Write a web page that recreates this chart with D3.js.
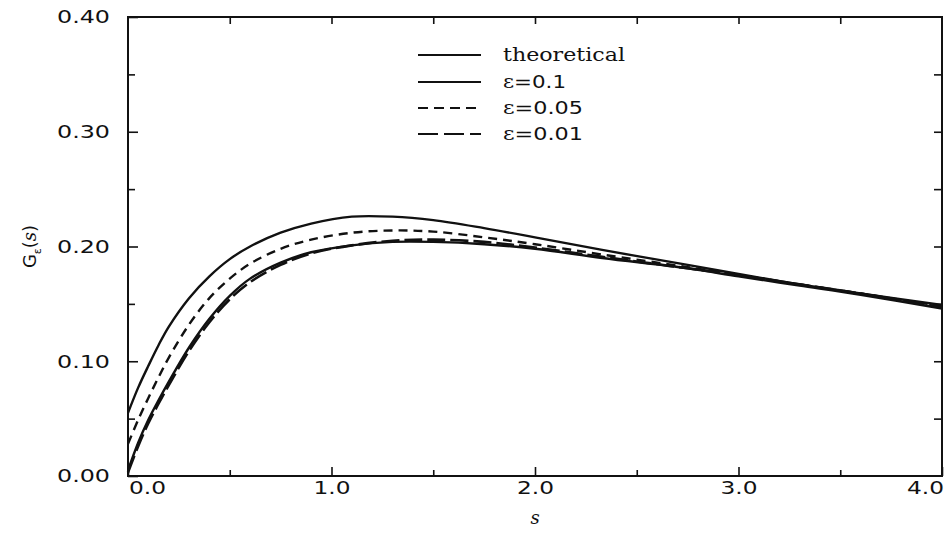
<!DOCTYPE html>
<html>
<head>
<meta charset="utf-8">
<script src="https://cdn.jsdelivr.net/npm/d3@7"></script>
<style>
  body { margin: 0; background: #fff; }
  svg { display: block; }
</style>
</head>
<body>
<svg id="chart" width="947" height="534"></svg>
<script>
const sVals = [0, 0.05, 0.1, 0.15, 0.2, 0.3, 0.4, 0.5, 0.6, 0.75, 0.9, 1.1, 1.3, 1.5, 1.75, 2.0, 2.33, 2.75, 3.0, 3.3, 3.6, 4.0];

const theoretical = [0.005, 0.029, 0.049, 0.066, 0.082, 0.112, 0.137, 0.157, 0.172, 0.186, 0.195, 0.201, 0.204, 0.204, 0.202, 0.198, 0.190, 0.181, 0.174, 0.166, 0.158, 0.146];
const eps01 = [0.055, 0.077, 0.096, 0.114, 0.130, 0.155, 0.174, 0.189, 0.200, 0.212, 0.220, 0.226, 0.226, 0.223, 0.216, 0.208, 0.197, 0.184, 0.176, 0.167, 0.159, 0.149];
const eps005 = [0.028, 0.049, 0.068, 0.086, 0.103, 0.132, 0.155, 0.172, 0.185, 0.198, 0.206, 0.212, 0.214, 0.213, 0.208, 0.202, 0.193, 0.182, 0.175, 0.167, 0.159, 0.148];
const eps001 = [0.003, 0.026, 0.046, 0.063, 0.079, 0.109, 0.134, 0.154, 0.169, 0.184, 0.194, 0.201, 0.205, 0.206, 0.204, 0.199, 0.191, 0.181, 0.175, 0.167, 0.159, 0.147];

const xTicks = [0, 1, 2, 3, 4];
const xTickLabels = ['0.0', '1.0', '2.0', '3.0', '4.0'];
const yTicks = [0, 0.1, 0.2, 0.3, 0.4];
const yTickLabels = ['0.00', '0.10', '0.20', '0.30', '0.40'];

const legendNames = ['theoretical', '=0.1', '=0.05', '=0.01'];

const svg = d3.select('#chart');
const plotLeft = 128, plotRight = 942, plotTop = 17, plotBottom = 476;

const x = d3.scaleLinear().domain([0, 4]).range([plotLeft, plotRight]);
const y = d3.scaleLinear().domain([0, 0.4]).range([plotBottom, plotTop]);

const tickFont = '"DejaVu Sans", sans-serif';
const serifFont = '"DejaVu Serif", serif';

// frame
svg.append('rect')
  .attr('x', plotLeft).attr('y', plotTop)
  .attr('width', plotRight - plotLeft).attr('height', plotBottom - plotTop)
  .attr('fill', 'none').attr('stroke', '#111').attr('stroke-width', 2);

// left axis, major + minor ticks pointing in
const yAxis = svg.append('g')
  .attr('transform', `translate(${plotLeft},0)`)
  .call(d3.axisLeft(y).tickValues(yTicks)
    .tickFormat((d, i) => yTickLabels[i])
    .tickSizeInner(-10).tickSizeOuter(0).tickPadding(18));
svg.append('g')
  .attr('transform', `translate(${plotLeft},0)`)
  .call(d3.axisLeft(y).tickValues([0.05, 0.15, 0.25, 0.35])
    .tickFormat('').tickSizeInner(-7).tickSizeOuter(0));

// right axis ticks (mirrored)
svg.append('g')
  .attr('transform', `translate(${plotRight},0)`)
  .call(d3.axisRight(y).tickValues(d3.range(0.05, 0.4, 0.05))
    .tickFormat('').tickSizeInner(-8).tickSizeOuter(0));

// bottom axis
const xAxis = svg.append('g')
  .attr('transform', `translate(0,${plotBottom})`)
  .call(d3.axisBottom(x).tickValues(xTicks)
    .tickFormat((d, i) => xTickLabels[i])
    .tickSizeInner(-9).tickSizeOuter(0).tickPadding(5));
svg.append('g')
  .attr('transform', `translate(0,${plotBottom})`)
  .call(d3.axisBottom(x).tickValues([0.5, 1.5, 2.5, 3.5])
    .tickFormat('').tickSizeInner(-6).tickSizeOuter(0));

// top axis ticks
svg.append('g')
  .attr('transform', `translate(0,${plotTop})`)
  .call(d3.axisTop(x).tickValues(d3.range(0.5, 4, 0.5))
    .tickFormat('').tickSizeInner(-7).tickSizeOuter(0));

svg.selectAll('.domain').remove();
svg.selectAll('.tick line').attr('stroke', '#111').attr('stroke-width', 1.6);

yAxis.selectAll('text')
  .attr('font-family', tickFont).attr('font-size', 18)
  .attr('fill', '#111')
  .attr('textLength', 53).attr('lengthAdjust', 'spacingAndGlyphs');

xAxis.selectAll('text')
  .attr('font-family', tickFont).attr('font-size', 18)
  .attr('fill', '#111')
  .attr('textLength', 37).attr('lengthAdjust', 'spacingAndGlyphs')
  .attr('dx', (d) => d === 0 ? 19 : d === 4 ? -17 : 0);

// axis titles
svg.append('text')
  .attr('x', x(2)).attr('y', 524)
  .attr('text-anchor', 'middle')
  .attr('font-family', serifFont).attr('font-style', 'italic')
  .attr('font-size', 18).attr('fill', '#111')
  .text('s');

const yTitle = svg.append('text')
  .attr('transform', `translate(36,${y(0.2)}) rotate(-90)`)
  .attr('text-anchor', 'middle')
  .attr('font-family', tickFont).attr('font-size', 18).attr('fill', '#111');
yTitle.append('tspan').text('G');
yTitle.append('tspan').attr('font-size', 11).attr('dy', 5).text('ε');
yTitle.append('tspan').attr('dy', -5).text('(');
yTitle.append('tspan').attr('font-family', serifFont).attr('font-style', 'italic').text('s');
yTitle.append('tspan').text(')');

// curves
const series = [
  { values: eps01, dash: null, width: 2.4 },
  { values: eps005, dash: '9,6', width: 2.4 },
  { values: theoretical, dash: null, width: 2.4 },
  { values: eps001, dash: '18,5', width: 2.6 }
];

const line = d3.line()
  .x((d) => x(d[0]))
  .y((d) => y(d[1]))
  .curve(d3.curveCatmullRom.alpha(0.5));

svg.selectAll('path.curve')
  .data(series)
  .enter()
  .append('path')
  .attr('class', 'curve')
  .attr('d', (d) => line(sVals.map((s, i) => [s, d.values[i]])))
  .attr('fill', 'none')
  .attr('stroke', '#111')
  .attr('stroke-width', (d) => d.width)
  .attr('stroke-dasharray', (d) => d.dash);

// legend
const legendDash = [null, null, '10,6', '20,6'];
const legendY = [55, 82, 108, 134];
const legendWidth = [122, 63, 80, 80];
const legend = svg.append('g');
legend.selectAll('line')
  .data(legendNames)
  .enter()
  .append('line')
  .attr('x1', 418).attr('x2', 481)
  .attr('y1', (d, i) => legendY[i]).attr('y2', (d, i) => legendY[i])
  .attr('stroke', '#111').attr('stroke-width', 2.2)
  .attr('stroke-dasharray', (d, i) => legendDash[i]);

legend.selectAll('text')
  .data(legendNames)
  .enter()
  .append('text')
  .attr('x', 503)
  .attr('y', (d, i) => legendY[i] + 6)
  .attr('font-size', 18)
  .attr('fill', '#111')
  .attr('textLength', (d, i) => legendWidth[i])
  .attr('lengthAdjust', 'spacingAndGlyphs')
  .each(function (d, i) {
    const t = d3.select(this);
    if (i === 0) {
      t.attr('font-family', serifFont).text(d);
    } else {
      t.append('tspan').attr('font-family', serifFont).text('ε');
      t.append('tspan').attr('font-family', tickFont).text(d);
    }
  });
</script>
</body>
</html>
